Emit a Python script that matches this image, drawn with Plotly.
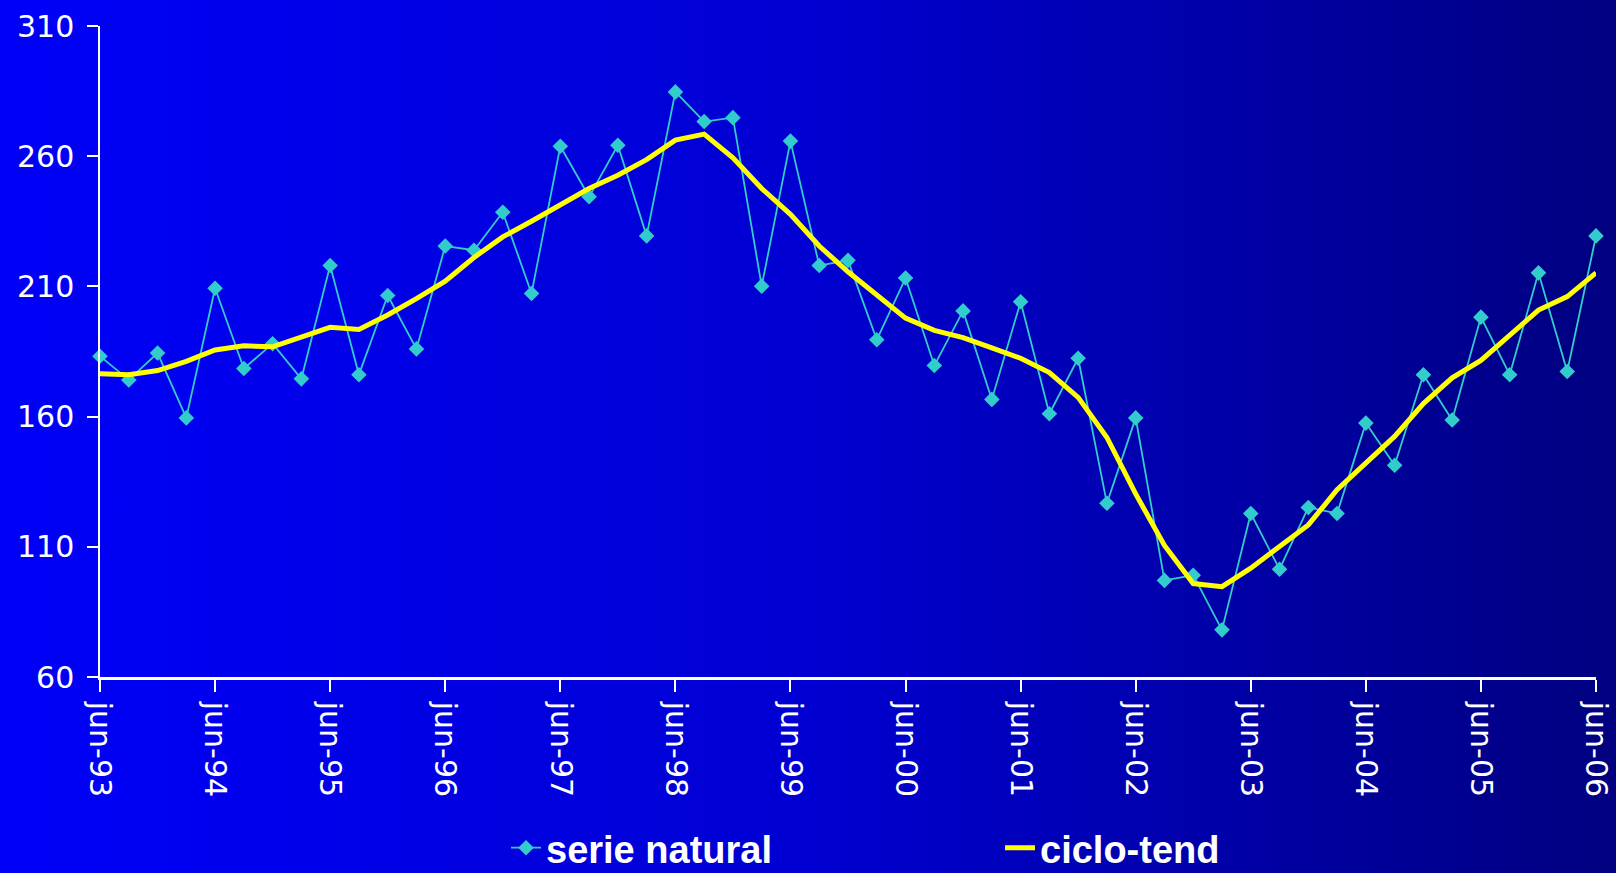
import base64
import plotly.graph_objects as go

# quarterly series, jun-93 .. jun-06
years = ["93", "94", "95", "96", "97", "98", "99", "00", "01", "02", "03", "04", "05", "06"]
tick_labels = [f"jun-{y}" for y in years]

serie_natural = [
    183.2, 174.1, 184.4, 159.5, 209.3, 178.5, 188.0, 174.5,
    218.0, 176.1, 206.5, 186.0, 225.5, 223.9, 238.5, 207.3,
    263.8, 244.4, 264.2, 229.4, 284.7, 273.3, 274.8, 210.1,
    265.8, 218.0, 220.0, 189.5, 213.2, 179.6, 200.6, 166.6,
    204.1, 161.1, 182.4, 126.7, 159.5, 97.1, 99.1, 78.1,
    122.8, 101.4, 125.1, 122.8, 157.5, 141.3, 176.1, 158.7,
    198.2, 176.1, 215.2, 177.3, 229.4,
]
ciclo_tend = [
    176.5, 176.1, 177.7, 181.2, 185.6, 187.2, 186.8, 190.7,
    194.3, 193.5, 199.0, 205.3, 212.0, 221.1, 229.0, 235.0,
    241.3, 247.6, 252.7, 258.7, 266.2, 268.5, 259.4, 247.6,
    237.7, 225.5, 215.6, 206.9, 197.8, 193.1, 190.3, 186.4,
    182.4, 176.9, 167.4, 152.0, 130.3, 110.5, 95.9, 94.7,
    101.8, 110.1, 118.4, 131.9, 142.1, 152.4, 165.0, 174.9,
    181.6, 191.5, 200.9, 206.1, 215.2,
]
quarters = list(range(len(serie_natural)))

W, H = 1616, 873
ml, mr, mt, mb = 100, 20, 26, 196
pw, ph = W - ml - mr, H - mt - mb

# horizontal blue gradient for the whole slide
svg = (
    f'<svg xmlns="http://www.w3.org/2000/svg" width="{W}" height="{H}" '
    f'viewBox="0 0 {W} {H}" preserveAspectRatio="none">'
    '<defs><linearGradient id="g" x1="0" y1="0" x2="1" y2="0">'
    '<stop offset="0" stop-color="#0000FA"/>'
    '<stop offset="0.5" stop-color="#0000D2"/>'
    '<stop offset="1" stop-color="#000080"/>'
    '</linearGradient></defs>'
    f'<rect width="{W}" height="{H}" fill="url(#g)"/></svg>'
)
bg = "data:image/svg+xml;base64," + base64.b64encode(svg.encode()).decode()

font = "Liberation Sans, Arial, sans-serif"
tick_font = dict(family="DejaVu Sans, Liberation Sans, sans-serif", size=30, color="white")

fig = go.Figure()
fig.add_trace(go.Scatter(
    x=quarters, y=serie_natural, name="serie natural",
    mode="lines+markers",
    line=dict(color="#33CCCC", width=1.8),
    marker=dict(symbol="diamond", size=12, color="#33CCCC"),
    cliponaxis=False, legend="legend",
))
fig.add_trace(go.Scatter(
    x=quarters, y=ciclo_tend, name="ciclo-tend",
    mode="lines",
    line=dict(color="#FFFF00", width=5),
    cliponaxis=False, legend="legend2",
))

legend_font = dict(family=font, size=38, color="white", weight="bold")
leg_y = 1 - 848 / H  # container coords, so the legends do not push the margins

fig.update_layout(
    width=W, height=H,
    autosize=False,
    showlegend=True,
    margin=dict(l=ml, r=mr, t=mt, b=mb),
    paper_bgcolor="#0000C0",
    plot_bgcolor="rgba(0,0,0,0)",
    font=dict(family=font, color="white"),
    images=[dict(
        source=bg, xref="paper", yref="paper",
        x=-ml / pw, y=1 + mt / ph,
        sizex=W / pw, sizey=H / ph,
        xanchor="left", yanchor="top",
        sizing="stretch", layer="below",
    )],
    xaxis=dict(
        range=[0, len(quarters) - 1],
        tickvals=quarters[::4], ticktext=tick_labels,
        tickangle=90, ticks="outside", ticklen=12, tickwidth=1.5,
        tickcolor="white", showline=True, linecolor="white", linewidth=2.5,
        showgrid=False, zeroline=False, automargin=False,
        tickfont=tick_font,
        ticklabelstandoff=4,
    ),
    yaxis=dict(
        range=[60, 310], tick0=60, dtick=50,
        ticks="outside", ticklen=11, tickwidth=1.5, tickcolor="white",
        showline=True, linecolor="white", linewidth=1.5,
        showgrid=False, zeroline=False, automargin=False,
        tickfont=tick_font,
        ticklabelstandoff=7,
    ),
    legend=dict(
        xref="container", yref="container",
        x=506 / W, y=leg_y, xanchor="left", yanchor="middle",
        orientation="h", font=legend_font, bgcolor="rgba(0,0,0,0)",
    ),
    legend2=dict(
        xref="container", yref="container",
        x=1000 / W, y=leg_y, xanchor="left", yanchor="middle",
        orientation="h", font=legend_font, bgcolor="rgba(0,0,0,0)",
    ),
)

fig.write_html(
    "out.html",
    config={"displayModeBar": False},
    post_script="document.body.style.margin='0';document.body.style.overflow='hidden';",
)
